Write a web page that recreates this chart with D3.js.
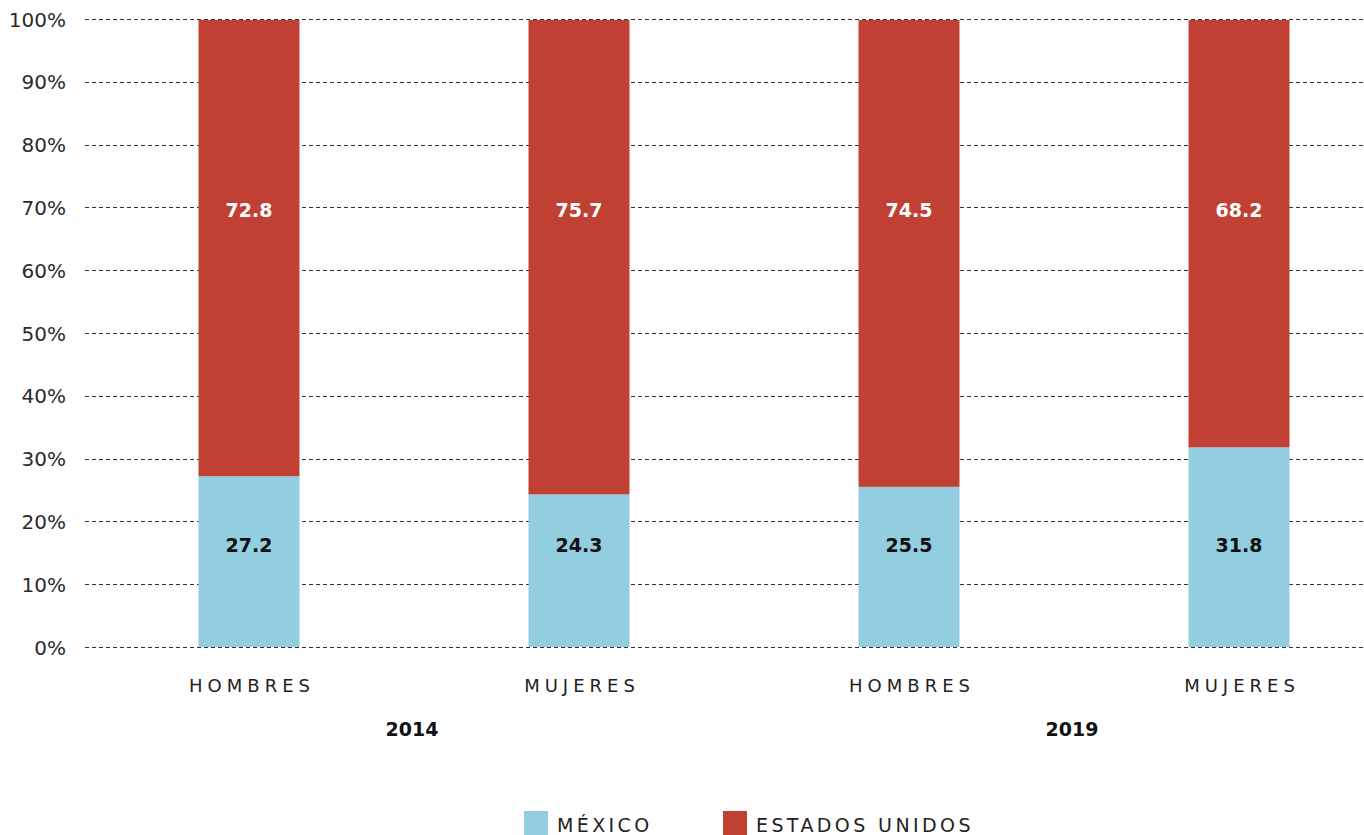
<!DOCTYPE html>
<html><head><meta charset="utf-8">
<script src="https://cdn.jsdelivr.net/npm/d3@7"></script>
<style>
html,body{margin:0;padding:0;background:#fff;}
svg{display:block;font-family:"DejaVu Sans","Noto Sans",sans-serif;}
</style></head>
<body>
<svg id="chart" width="1364" height="835"></svg>
<script>
const categories = ["HOMBRES", "MUJERES", "HOMBRES", "MUJERES"];
const years = ["2014", "2019"];
const mexico = [27.2, 24.3, 25.5, 31.8];
const estadosUnidos = [72.8, 75.7, 74.5, 68.2];
const yTicks = [0, 10, 20, 30, 40, 50, 60, 70, 80, 90, 100];
const seriesNames = ["MÉXICO", "ESTADOS UNIDOS"];
const colors = ["#92CDE0", "#C04134"];

const W = 1364, H = 835;
const svg = d3.select("#chart");
const keys = categories.map((c, i) => i);
const x = d3.scaleBand().domain(keys).range([84, 1404]).paddingInner(0.694).paddingOuter(0.347);
const y = d3.scaleLinear().domain([0, 100]).range([647, 19]);

// gridlines
svg.append("g").selectAll("line").data(yTicks).join("line")
  .attr("x1", 85).attr("x2", W)
  .attr("y1", d => Math.round(y(d)) + 0.5).attr("y2", d => Math.round(y(d)) + 0.5)
  .attr("stroke", "#333").attr("stroke-width", 1).attr("stroke-dasharray", "4,3");

// y axis labels
const yAxis = d3.axisLeft(y).tickValues(yTicks).tickFormat(d => d + "%").tickSize(0).tickPadding(0);
const ga = svg.append("g").attr("transform", "translate(66,0)").call(yAxis);
ga.select(".domain").remove();
ga.selectAll("text").attr("font-size", 20).attr("fill", "#2a2a2a")
  .attr("font-family", "'DejaVu Sans',sans-serif").attr("dy", "0.35em");

// stacked data
const rows = keys.map(i => ({i, mx: mexico[i], us: estadosUnidos[i]}));
const stack = d3.stack().keys(["mx", "us"])(rows);

svg.append("g").selectAll("g").data(stack).join("g")
  .attr("fill", (d, k) => colors[k])
  .selectAll("rect").data(d => d).join("rect")
  .attr("x", d => x(d.data.i)).attr("width", x.bandwidth())
  .attr("y", d => y(d[1]) + (d[1] === 100 ? 1 : 0))
  .attr("height", d => y(d[0]) - y(d[1]) - (d[1] === 100 ? 1 : 0));

// value labels (fixed positions as in original)
const labelPos = [16.2, 69.5];
const labelColor = ["#111", "#fff"];
stack.forEach((s, k) => {
  svg.append("g").selectAll("text").data(s).join("text")
    .attr("x", d => x(d.data.i) + x.bandwidth() / 2)
    .attr("y", y(labelPos[k])).attr("dy", "0.35em")
    .attr("text-anchor", "middle").attr("font-size", 19)
    .attr("font-weight", "bold").attr("fill", labelColor[k])
    .text(d => (d[1] - d[0]).toFixed(1));
});

// category labels
svg.append("g").selectAll("text").data(keys).join("text")
  .attr("x", d => x(d) + x.bandwidth() / 2 + 3).attr("y", 692)
  .attr("text-anchor", "middle").attr("font-size", 18).attr("letter-spacing", 5)
  .attr("fill", "#222").text(d => categories[d]);

// year labels
svg.append("g").selectAll("text").data(years).join("text")
  .attr("x", (d, j) => (x(j * 2) + x(j * 2 + 1) + x.bandwidth()) / 2 - 2)
  .attr("y", 736).attr("text-anchor", "middle").attr("font-size", 19)
  .attr("font-weight", "bold").attr("fill", "#111").text(d => d);

// legend
const legX = [524, 723];
const leg = svg.append("g").selectAll("g").data(seriesNames).join("g")
  .attr("transform", (d, k) => `translate(${legX[k]},811)`);
leg.append("rect").attr("width", 24).attr("height", 24).attr("fill", (d, k) => colors[k]);
leg.append("text").attr("x", 33).attr("y", 21).attr("font-size", 19)
  .attr("letter-spacing", 3.4).attr("fill", "#222").text(d => d);
</script>
</body></html>
